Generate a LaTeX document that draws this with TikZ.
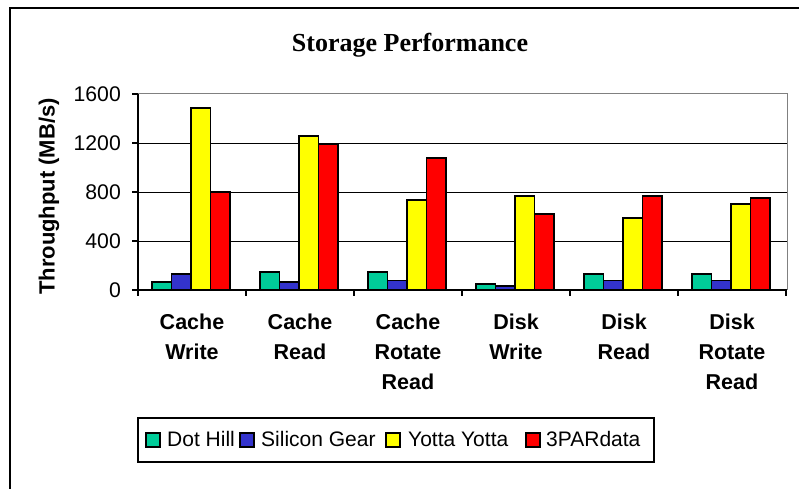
\documentclass[tikz,border=0pt]{standalone}
\usepackage{fontspec}
\setmainfont{Liberation Sans}
\newfontfamily\titlefont{Liberation Serif}
\definecolor{cteal}{HTML}{00CC99}
\definecolor{cblue}{HTML}{3333CC}
\definecolor{cyel}{HTML}{FFFF00}
\definecolor{cred}{HTML}{FF0000}
\begin{document}
\begin{tikzpicture}[x=1pt,y=-1pt,
  barbox/.style={draw=black,line width=1.3pt},
  ticklab/.style={anchor=east,inner sep=0pt,font=\fontsize{21.2}{24}\selectfont},
  catlab/.style={anchor=north,inner sep=0pt,align=center,font=\bfseries\fontsize{21.5}{30}\selectfont},
  leglab/.style={anchor=base west,inner sep=0pt,font=\fontsize{21}{24}\selectfont},
  swatch/.style={draw=black,line width=1.3pt}]
\useasboundingbox (0,0) rectangle (799,489);
\fill[white] (0,0) rectangle (799,489);
% outer frame
\draw[line width=2pt] (10,489) -- (10,8) -- (799,8);
% title
\node[anchor=base,inner sep=0pt,font=\titlefont\bfseries\fontsize{26}{30}\selectfont] (title) at (410,52) {Storage Performance};
% gridlines
\foreach \v in {400,800,1200}
  \draw[line width=1pt] (138,{290-\v*0.1225}) -- (787,{290-\v*0.1225});
\draw[gray,line width=1pt] (138,94) -- (787,94) -- (787,290);
% bars
\foreach \a/\b/\c/\d [count=\i from 0] in {65/130/1485/800,147/65/1257/1192,147/80/735/1078,50/33/767/620,130/80/588/767,130/80/702/751}{
  \pgfmathsetmacro\L{138+108*\i+14}
  \filldraw[barbox,fill=cteal] (\L,290) rectangle ({\L+19.5},{290-\a*0.1225});
  \filldraw[barbox,fill=cblue] ({\L+19.5},290) rectangle ({\L+39},{290-\b*0.1225});
  \filldraw[barbox,fill=cyel] ({\L+39},290) rectangle ({\L+58.5},{290-\c*0.1225});
  \filldraw[barbox,fill=cred] ({\L+58.5},290) rectangle ({\L+78},{290-\d*0.1225});
}
% axes
\draw[line width=1.3pt] (138,94) -- (138,290) -- (787,290);
\foreach \v in {0,400,800,1200,1600}{
  \draw[line width=1.3pt] (132,{290-\v*0.1225}) -- (138,{290-\v*0.1225});
  \node[ticklab] (t\v) at (121,{290-\v*0.1225}) {\v};
}
\foreach \k in {0,...,6}
  \draw[line width=1.3pt] ({138+108*\k},290) -- ({138+108*\k},296);
% axis label
\node[rotate=90,inner sep=0pt,font=\bfseries\fontsize{22}{24}\selectfont] (ylab) at (49,196.5) {Throughput (MB/s)};
% category labels
\node[catlab] (c1) at (192,313.5) {Cache\\Write};
\node[catlab] (c2) at (300,313.5) {Cache\\Read};
\node[catlab] (c3) at (408,313.5) {Cache\\Rotate\\Read};
\node[catlab] (c4) at (516,313.5) {Disk\\Write};
\node[catlab] (c5) at (624,313.5) {Disk\\Read};
\node[catlab] (c6) at (732,313.5) {Disk\\Rotate\\Read};
% legend
\draw[line width=2pt] (138,418) rectangle (654,462);
\filldraw[swatch,fill=cteal] (146,433) rectangle (160,447);
\node[leglab] (l1) at (167,446) {Dot Hill};
\filldraw[swatch,fill=cblue] (240,433) rectangle (254,447);
\node[leglab] (l2) at (261,446) {Silicon Gear};
\filldraw[swatch,fill=cyel] (386,433) rectangle (400,447);
\node[leglab] (l3) at (408,446) {Yotta Yotta};
\filldraw[swatch,fill=cred] (526,433) rectangle (540,447);
\node[leglab] (l4) at (546,446) {3PARdata};
\end{tikzpicture}
\end{document}
